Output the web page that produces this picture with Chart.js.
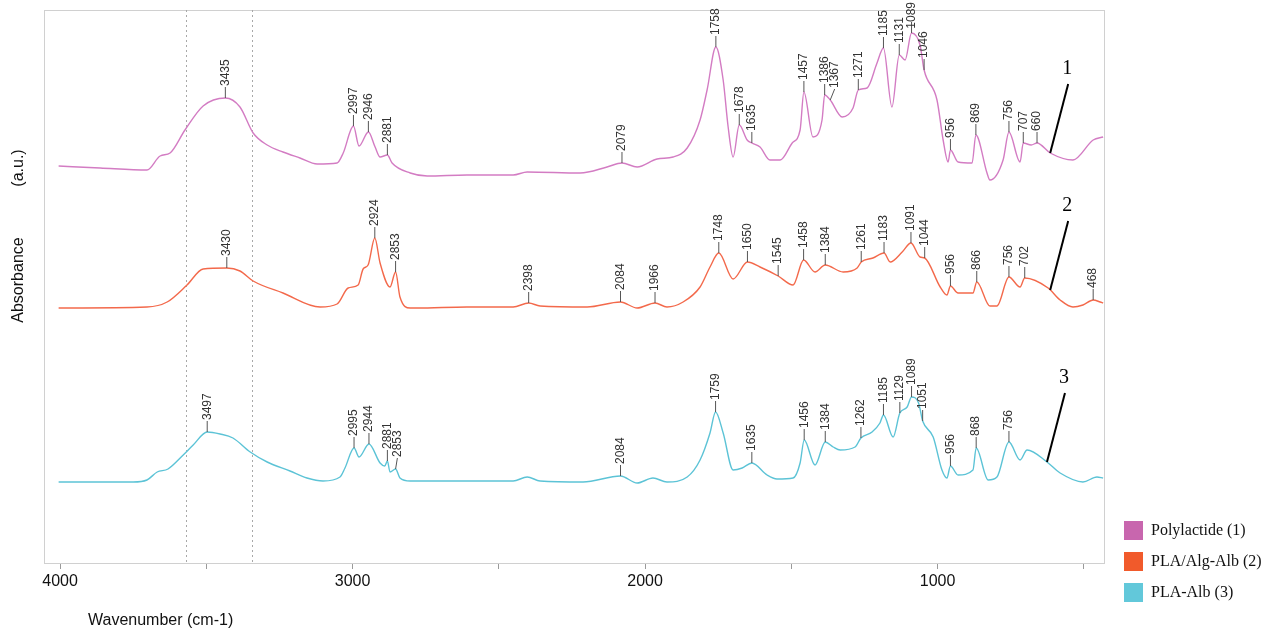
<!DOCTYPE html>
<html>
<head>
<meta charset="utf-8">
<title>FTIR spectra</title>
<script src="https://cdn.jsdelivr.net/npm/chart.js@4.4.1/dist/chart.umd.min.js"></script>
<style>
  html, body { margin: 0; padding: 0; background: #fff; }
  canvas { display: block; }
</style>
</head>
<body>
<canvas id="ftir" width="1273" height="632"></canvas>
<script>
// spectra: wavenumber (cm-1) and absorbance (a.u., curves stacked)
const plaWn = [4005,3863,3703,3658,3624,3573,3511,3435,3385,3340,3292,3238,3180,3121,3053,3032,2997,2978,2946,2923,2906,2881,2865,2803,2745,2609,2451,2403,2222,2130,2079,2027,1959,1904,1856,1812,1788,1758,1733,1716,1699,1678,1651,1635,1607,1573,1538,1497,1470,1457,1426,1395,1386,1367,1326,1289,1271,1241,1207,1185,1156,1131,1111,1089,1060,1046,1002,981,964,956,930,882,869,831,821,776,756,718,707,680,660,615,537,468,434];
const plaAbs = [397,395,393,407,410,433,457,465,456,430,418,411,405,399,400,410,437,417,431,416,406,408,400,390,387,388,388,391,390,396,400,396,404,406,415,443,473,516,483,436,406,438,423,420,416,403,403,420,433,471,426,443,468,463,446,455,473,475,500,515,456,508,503,530,518,493,463,423,401,413,401,400,428,390,383,403,431,401,420,418,420,410,403,423,426];

const algWn = [4005,3703,3634,3566,3511,3430,3385,3340,3238,3111,3053,3015,2981,2964,2947,2924,2906,2872,2853,2838,2803,2779,2609,2451,2398,2359,2198,2084,2027,1966,1925,1870,1812,1778,1748,1699,1650,1607,1545,1494,1458,1419,1384,1323,1275,1261,1221,1183,1162,1121,1091,1060,1044,991,968,956,930,879,866,821,797,756,718,702,622,581,537,503,468,444,434];
const algAbs = [255,256,261,278,294,295,292,282,270,256,259,275,278,294,298,325,300,276,291,266,255,255,256,256,260,257,256,261,255,260,256,261,276,296,310,284,301,296,287,278,303,291,298,291,295,301,305,310,301,311,320,306,305,276,268,277,270,270,281,257,257,286,276,285,275,263,256,258,263,261,260];

const albWn = [4005,3750,3703,3668,3631,3579,3545,3497,3453,3409,3350,3292,3214,3156,3101,3043,3026,2995,2978,2944,2906,2890,2881,2872,2853,2838,2803,2609,2451,2403,2359,2212,2084,2027,1973,1925,1856,1812,1778,1759,1733,1699,1668,1635,1583,1549,1494,1470,1456,1419,1384,1357,1333,1282,1262,1224,1197,1185,1152,1129,1104,1089,1065,1051,1015,985,968,956,930,879,868,827,797,756,718,694,626,581,503,455,434];
const albAbs = [81,81,83,91,94,108,118,131,129,125,111,101,92,85,82,86,95,115,106,119,100,97,102,91,94,85,82,82,82,86,82,81,87,80,85,81,86,103,130,151,130,93,95,100,88,84,85,100,123,98,121,116,113,116,125,131,140,148,126,150,156,166,160,142,126,93,85,97,88,93,115,83,86,121,103,113,101,90,81,86,85];

// labelled peaks
const plaPeaks = [3435,2997,2946,2881,2079,1758,1678,1635,1457,1386,1367,1271,1185,1131,1089,1046,956,869,756,707,660];
const algPeaks = [3430,2924,2853,2398,2084,1966,1748,1650,1545,1458,1384,1261,1183,1091,1044,956,866,756,702,468];
const albPeaks = [3497,2995,2944,2881,2853,2084,1759,1635,1456,1384,1262,1185,1129,1089,1051,956,868,756];

const seriesNames = ['Polylactide (1)', 'PLA/Alg-Alb (2)', 'PLA-Alb (3)'];
const seriesTags = ['1', '2', '3'];
const tagWn = [615, 615, 626];
const guideWn = [3568, 3345];
const xTicks = [4000, 3500, 3000, 2500, 2000, 1500, 1000, 500];

const lineColors = ['#d37cc3', '#f3694b', '#5cc3d6'];
const boxColors = ['#c866ae', '#f15a2b', '#62c8da'];

const samples = [
  { wn: plaWn, ab: plaAbs, peaks: plaPeaks },
  { wn: algWn, ab: algAbs, peaks: algPeaks },
  { wn: albWn, ab: albAbs, peaks: albPeaks },
];

function valueAt(wn, ab, w) {
  for (let i = 0; i < wn.length - 1; i++) {
    if (w <= wn[i] && w >= wn[i + 1]) {
      const t = (wn[i] - w) / (wn[i] - wn[i + 1]);
      return ab[i] + t * (ab[i + 1] - ab[i]);
    }
  }
  return ab[ab.length - 1];
}

const sansFont = '"Liberation Sans", Arial, sans-serif';
const serifFont = '"Liberation Serif", "Times New Roman", serif';
Chart.defaults.font.family = sansFont;

const decor = {
  id: 'decor',
  beforeDatasetsDraw(chart) {
    const { ctx, chartArea: a, scales: { x } } = chart;
    ctx.save();
    // frame
    ctx.strokeStyle = '#d0d0d0';
    ctx.lineWidth = 1;
    ctx.strokeRect(a.left + 0.5, a.top + 0.5, a.right - a.left, a.bottom - a.top);
    // dotted guides
    ctx.strokeStyle = '#a8a8a8';
    ctx.setLineDash([2, 3]);
    guideWn.forEach(w => {
      const gx = Math.round(x.getPixelForValue(w)) + 0.5;
      ctx.beginPath();
      ctx.moveTo(gx, a.top);
      ctx.lineTo(gx, a.bottom);
      ctx.stroke();
    });
    ctx.restore();
  },
  afterDraw(chart) {
    const { ctx, scales: { x, y } } = chart;
    ctx.save();

    // peak labels
    ctx.font = '12px ' + sansFont;
    ctx.fillStyle = '#333';
    ctx.strokeStyle = '#555';
    ctx.lineWidth = 1;
    ctx.textAlign = 'left';
    ctx.textBaseline = 'middle';
    samples.forEach(s => {
      let prevX = -Infinity;
      s.peaks.forEach(p => {
        const px = x.getPixelForValue(p);
        const py = y.getPixelForValue(valueAt(s.wn, s.ab, p));
        const lx = Math.max(px, prevX + 10);
        prevX = lx;
        const tw = ctx.measureText(String(p)).width;
        const top = Math.max(py - 11, tw + 3);
        ctx.beginPath();
        ctx.moveTo(px, py);
        ctx.lineTo(lx, Math.min(top, py - 11));
        ctx.stroke();
        ctx.save();
        ctx.translate(lx, top - 1);
        ctx.rotate(-Math.PI / 2);
        ctx.fillText(String(p), 0, 0);
        ctx.restore();
      });
    });

    // curve numbers with leader lines
    ctx.strokeStyle = '#000';
    ctx.fillStyle = '#000';
    ctx.lineWidth = 2;
    ctx.font = '20px ' + serifFont;
    ctx.textAlign = 'center';
    samples.forEach((s, i) => {
      const px = x.getPixelForValue(tagWn[i]);
      const py = y.getPixelForValue(valueAt(s.wn, s.ab, tagWn[i]));
      ctx.beginPath();
      ctx.moveTo(px, py);
      ctx.lineTo(px + 18, py - 69);
      ctx.stroke();
      ctx.fillText(seriesTags[i], px + 17, py - 84);
    });

    // axis titles
    ctx.fillStyle = '#111';
    ctx.font = '16px ' + sansFont;
    ctx.textAlign = 'left';
    ctx.fillText('Wavenumber (cm-1)', 88, 621);
    ctx.textAlign = 'center';
    [['Absorbance', 280], ['(a.u.)', 168]].forEach(([t, cy]) => {
      ctx.save();
      ctx.translate(19, cy);
      ctx.rotate(-Math.PI / 2);
      ctx.fillText(t, 0, 0);
      ctx.restore();
    });

    // legend
    ctx.font = '16px ' + serifFont;
    ctx.textAlign = 'left';
    seriesNames.forEach((name, i) => {
      const ty = 521 + i * 31;
      ctx.fillStyle = boxColors[i];
      ctx.fillRect(1124, ty, 19, 19);
      ctx.fillStyle = '#111';
      ctx.fillText(name, 1151, ty + 10);
    });
    ctx.restore();
  }
};

new Chart(document.getElementById('ftir'), {
  type: 'line',
  data: {
    datasets: samples.map((s, i) => ({
      label: seriesNames[i],
      data: s.wn.map((w, j) => ({ x: w, y: s.ab[j] })),
      borderColor: lineColors[i],
      borderWidth: 1.4,
      pointRadius: 0,
      cubicInterpolationMode: 'monotone',
      fill: false,
    })),
  },
  options: {
    responsive: false,
    animation: false,
    devicePixelRatio: 1,
    layout: { padding: { left: 44, right: 169, top: 10, bottom: 0 } },
    plugins: { legend: { display: false }, tooltip: { enabled: false } },
    scales: {
      x: {
        type: 'linear',
        reverse: true,
        min: 431,
        max: 4055,
        afterBuildTicks: axis => { axis.ticks = xTicks.map(v => ({ value: v })); },
        afterFit: axis => { axis.height = 69; },
        ticks: {
          callback: v => (v % 1000 === 0 ? String(v) : ''),
          font: { size: 16 },
          color: '#111',
          maxRotation: 0,
          autoSkip: false,
          padding: 3,
        },
        grid: { drawOnChartArea: false, tickLength: 6, color: '#9a9a9a' },
        border: { color: '#b0b0b0' },
      },
      y: { display: false, min: 0, max: 553 },
    },
  },
  plugins: [decor],
});
</script>
</body>
</html>
